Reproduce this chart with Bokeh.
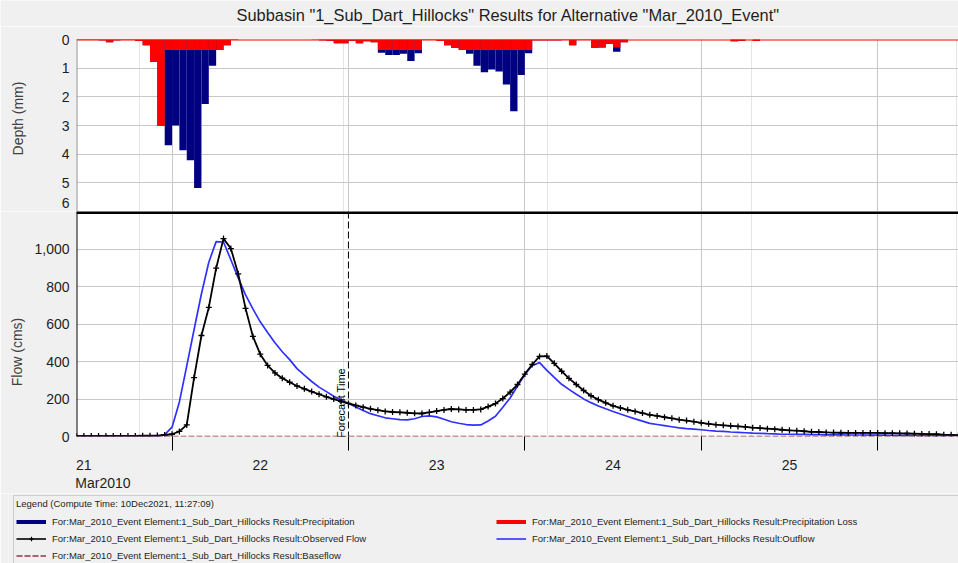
import pandas as pd
from bokeh.plotting import figure
from bokeh.layouts import column
from bokeh.models import (Range1d, LinearAxis, FixedTicker, Grid, Span, Label, Legend,
                          LegendItem, NumeralTickFormatter, DatetimeTickFormatter)
from bokeh.embed import file_html
from bokeh.resources import INLINE

# ---------------- data ----------------
TITLE = 'Subbasin "1_Sub_Dart_Hillocks" Results for Alternative "Mar_2010_Event"'
START = "2010-03-21 11:00"
END = "2010-03-26 11:00"
FORECAST = "2010-03-23 00:00"
LEGEND_TITLE = "Legend (Compute Time: 10Dec2021, 11:27:09)"
DEPTH_LABEL = "Depth (mm)"
FLOW_LABEL = "Flow (cms)"

# hourly depth per interval starting at START (mm)
precip_mm = [
    0.02, 0.02, 0.02, 0.03, 0.10, 0.03, 0.02, 0.02, 0.05, 0.20,
    0.78, 3.02, 3.69, 3.00, 3.86, 4.21, 5.18, 2.25, 0.92, 0.37,
    0.20, 0.02, 0, 0, 0, 0, 0, 0, 0, 0,
    0, 0, 0.01, 0.03, 0.04, 0.13, 0.13, 0.04, 0.13, 0.06,
    0.10, 0.46, 0.54, 0.54, 0.50, 0.75, 0.48, 0.02, 0.02, 0.05,
    0.20, 0.30, 0.37, 0.50, 0.92, 1.14, 1.05, 1.12, 1.57, 2.50,
    1.24, 0.48, 0.03, 0.03, 0.03, 0.03, 0.02, 0.20, 0.02, 0.02,
    0.30, 0.28, 0.15, 0.43, 0.10, 0, 0, 0, 0, 0,
    0, 0, 0, 0, 0, 0, 0, 0, 0, 0.06,
    0.04, 0, 0.05, 0, 0, 0, 0, 0, 0, 0,
    0, 0, 0, 0, 0, 0, 0, 0, 0, 0,
    0, 0, 0, 0, 0, 0, 0, 0, 0, 0,
]
loss_mm = [
    0.02, 0.02, 0.02, 0.03, 0.10, 0.03, 0.02, 0.02, 0.05, 0.20,
    0.78, 3.02, 0.37, 0.37, 0.37, 0.37, 0.37, 0.37, 0.37, 0.37,
    0.20, 0.02, 0, 0, 0, 0, 0, 0, 0, 0,
    0, 0, 0.01, 0.03, 0.04, 0.13, 0.13, 0.04, 0.13, 0.06,
    0.10, 0.37, 0.37, 0.37, 0.37, 0.37, 0.37, 0.02, 0.02, 0.05,
    0.20, 0.30, 0.37, 0.37, 0.37, 0.37, 0.37, 0.37, 0.37, 0.37,
    0.37, 0.37, 0.03, 0.03, 0.03, 0.03, 0.02, 0.20, 0.02, 0.02,
    0.30, 0.28, 0.15, 0.28, 0.10, 0, 0, 0, 0, 0,
    0, 0, 0, 0, 0, 0, 0, 0, 0, 0.06,
    0.04, 0, 0.05, 0, 0, 0, 0, 0, 0, 0,
    0, 0, 0, 0, 0, 0, 0, 0, 0, 0,
    0, 0, 0, 0, 0, 0, 0, 0, 0, 0,
]

# hourly flows from START to END (cms)
observed_cms = [
    3, 3, 3, 3, 3, 3, 3, 3, 3, 4,
    4, 5, 8, 12, 27, 62, 315, 540, 690, 900,
    1058, 1005, 870, 685, 535, 440, 380, 340, 312, 290,
    270, 255, 240, 226, 212, 200, 188, 177, 166, 157,
    148, 141, 134, 131, 129, 127, 124, 123, 129, 136,
    142, 147, 145, 142, 142, 145, 160, 176, 203, 237,
    278, 334, 385, 428, 430, 391, 349, 311, 278, 246,
    218, 197, 180, 164, 153, 143, 134, 125, 116, 110,
    103, 97, 90, 85, 79, 73, 68, 63, 60, 57,
    54, 51, 47, 45, 42, 39, 36, 33, 31, 28,
    25, 24, 22, 21, 20, 19, 19, 19, 19, 19,
    18, 18, 17, 16, 15, 14, 13, 12, 10, 9,
    7,
]
outflow_cms = [
    0, 0, 0, 0, 0, 0, 0, 0, 0, 0,
    0, 1, 10, 50, 185, 378, 572, 763, 932, 1042,
    1040, 945, 848, 757, 682, 613, 556, 501, 453, 411,
    363, 328, 294, 264, 240, 215, 195, 176, 158, 139,
    122, 111, 100, 95, 90, 89, 95, 107, 110, 105,
    92, 79, 71, 64, 61, 62, 83, 108, 156, 206,
    270, 331, 380, 395, 354, 316, 279, 252, 226, 201,
    181, 163, 148, 134, 120, 107, 94, 82, 70, 64,
    58, 52, 46, 42, 39, 36, 32, 29, 27, 24,
    22, 20, 18, 17, 15, 14, 12, 12, 11, 11,
    10, 10, 9, 9, 9, 8, 8, 8, 7, 7,
    7, 6, 6, 6, 6, 5, 5, 5, 5, 4,
    4,
]
baseflow_cms = [0.0] * len(observed_cms)

day_label_times = ["2010-03-21 12:00", "2010-03-22 12:00", "2010-03-23 12:00",
                   "2010-03-24 12:00", "2010-03-25 12:00"]
midnight_times = ["2010-03-22 00:00", "2010-03-23 00:00", "2010-03-24 00:00",
                  "2010-03-25 00:00", "2010-03-26 00:00"]
month_label = "Mar2010"
depth_ticks = [0, 1, 2, 3, 4, 5, 6]
flow_ticks = [0, 200, 400, 600, 800, 1000]
FLOW_MAX = 1203
DEPTH_MAX = 6

LEGEND_LABELS = [
    "For:Mar_2010_Event Element:1_Sub_Dart_Hillocks Result:Precipitation",
    "For:Mar_2010_Event Element:1_Sub_Dart_Hillocks Result:Precipitation Loss",
    "For:Mar_2010_Event Element:1_Sub_Dart_Hillocks Result:Observed Flow",
    "For:Mar_2010_Event Element:1_Sub_Dart_Hillocks Result:Outflow",
    "For:Mar_2010_Event Element:1_Sub_Dart_Hillocks Result:Baseflow",
]

# ---------------- helpers ----------------
def ms(s):
    return pd.Timestamp(s).value / 1e6

FONT = "Liberation Sans"
BG = "#f0f0f0"
GRID = "#c8c8c8"
TXT = "#1e1e1e"
W = 958
TITLE_H = 26
NAN = float("nan")
EM = "\u2003"   # em-space padding used to nudge the rotated axis titles

bar_centers = pd.date_range(START, periods=len(precip_mm), freq="h") + pd.Timedelta(minutes=30)
flow_times = pd.date_range(START, END, freq="h")
HOUR_MS = 3600 * 1000

x_range = Range1d(start=ms(START), end=ms(END))
midnight_ms = [ms(t) for t in midnight_times]
noon_ms = [ms(t) for t in day_label_times]

# ---------------- title strip ----------------
p0 = figure(width=W, height=TITLE_H, x_range=Range1d(0, W), y_range=Range1d(TITLE_H, 0),
            x_axis_location=None, y_axis_location=None, toolbar_location=None,
            output_backend="svg", min_border=0, outline_line_color=None,
            background_fill_color=BG, border_fill_color=BG)
try:
    p0.frame_align = False
except Exception:
    pass
p0.xgrid.grid_line_color = None
p0.ygrid.grid_line_color = None
p0.add_layout(Label(x=236, y=14, text=TITLE, text_align="left", text_baseline="middle",
                    text_font=FONT, text_font_size="16.4px", text_color=TXT))

# ---------------- top panel: depth ----------------
p1 = figure(width=W, height=211 - TITLE_H, x_range=x_range, y_range=Range1d(DEPTH_MAX, 0),
            x_axis_location=None, y_axis_location=None, toolbar_location=None,
            output_backend="svg", min_border_left=76, min_border_right=0,
            min_border_top=39 - TITLE_H, min_border_bottom=0,
            background_fill_color="white", border_fill_color=BG, outline_line_color=None)

# the last depth label sits just above the panel's lower edge, as in the source chart
last_pos = DEPTH_MAX - 0.3
depth_label_pos = depth_ticks[:-1] + [last_pos]
ax1 = LinearAxis(ticker=FixedTicker(ticks=depth_label_pos), axis_label=EM + DEPTH_LABEL,
                 major_label_overrides={last_pos: str(depth_ticks[-1])})
p1.add_layout(ax1, "left")
ax1.major_tick_out = 0
ax1.major_tick_in = 0
ax1.minor_tick_out = 0
ax1.major_label_standoff = 7
ax1.major_label_text_font = FONT
ax1.major_label_text_font_size = "14px"
ax1.major_label_text_color = TXT
ax1.axis_label_text_font = FONT
ax1.axis_label_text_font_size = "14px"
ax1.axis_label_text_font_style = "normal"
ax1.axis_label_text_color = "#404040"
ax1.axis_label_standoff = 33
ax1.axis_line_color = None

p1.add_layout(Grid(dimension=1, ticker=FixedTicker(ticks=depth_ticks[1:-1]),
                   grid_line_color=GRID))
p1.add_layout(Grid(dimension=0, ticker=FixedTicker(ticks=midnight_ms),
                   grid_line_color=GRID))

p1.vbar(x=bar_centers, width=HOUR_MS, top=0, bottom=precip_mm,
        fill_color="#000080", line_color=None)
p1.vbar(x=bar_centers, width=HOUR_MS, top=0, bottom=loss_mm,
        fill_color="#ff0000", line_color=None)
p1.add_layout(Span(location=0, dimension="width", line_color="#ff0000", line_width=2))
p1.add_layout(Span(location=ms(START), dimension="height", line_color="#909090", line_width=2))

# ---------------- bottom panel: flow ----------------
p2 = figure(width=W, height=282, x_range=x_range, y_range=Range1d(0, FLOW_MAX),
            x_axis_location=None, y_axis_location=None, toolbar_location=None,
            output_backend="svg", min_border_left=76, min_border_right=0,
            min_border_top=0, min_border_bottom=45,
            background_fill_color="white", border_fill_color=BG, outline_line_color=None)

ax2 = LinearAxis(ticker=FixedTicker(ticks=flow_ticks), axis_label=FLOW_LABEL + EM * 4,
                 formatter=NumeralTickFormatter(format="0,0"))
p2.add_layout(ax2, "left")
ax2.major_tick_out = 0
ax2.major_tick_in = 0
ax2.minor_tick_out = 0
ax2.major_label_standoff = 7
ax2.major_label_text_font = FONT
ax2.major_label_text_font_size = "14px"
ax2.major_label_text_color = TXT
ax2.axis_label_text_font = FONT
ax2.axis_label_text_font_size = "14px"
ax2.axis_label_text_font_style = "normal"
ax2.axis_label_text_color = "#404040"
ax2.axis_label_standoff = 6
ax2.axis_line_color = None

day_fmt = DatetimeTickFormatter(days="%d", hours="%d", months="%d", years="%d",
                                minutes="%d", hourmin="%d", seconds="%d",
                                minsec="%d", milliseconds="%d", microseconds="%d")
axA = LinearAxis(ticker=FixedTicker(ticks=noon_ms, minor_ticks=midnight_ms),
                 formatter=day_fmt)
p2.add_layout(axA, "below")
axA.axis_line_color = None
axA.major_tick_out = 0
axA.major_tick_in = 0
axA.minor_tick_in = 0
axA.minor_tick_out = 14
axA.minor_tick_line_color = "black"
axA.major_label_standoff = 9
axA.major_label_text_font = FONT
axA.major_label_text_font_size = "14px"
axA.major_label_text_color = TXT

# month label under the first day label (left-aligned with the axis start)
month_pos = ms(START) + 3.6 * HOUR_MS
axB = LinearAxis(ticker=FixedTicker(ticks=[month_pos]),
                 major_label_overrides={month_pos: month_label})
p2.add_layout(axB, "below")
axB.axis_line_color = None
axB.major_tick_line_color = None
axB.minor_tick_line_color = None
axB.major_tick_out = 0
axB.major_label_standoff = 2
axB.major_label_text_font = FONT
axB.major_label_text_font_size = "14px"
axB.major_label_text_color = TXT

p2.add_layout(Grid(dimension=1, ticker=FixedTicker(ticks=flow_ticks[1:]),
                   grid_line_color=GRID))
p2.add_layout(Grid(dimension=0,
                   ticker=FixedTicker(ticks=[m for m in midnight_ms if m != ms(FORECAST)]),
                   grid_line_color=GRID))

p2.line(flow_times, outflow_cms, line_color="#3030ff", line_width=1.7)
p2.line(flow_times, observed_cms, line_color="black", line_width=1.8)
p2.scatter(flow_times, observed_cms, marker="cross", size=6, line_color="black", line_width=1.3)
p2.line(flow_times, baseflow_cms, line_color="#8c3848", line_dash="6 2", line_width=1.5)

p2.add_layout(Span(location=ms(FORECAST), dimension="height", line_color="black",
                   line_dash="7 3", line_width=1))
p2.add_layout(Span(location=FLOW_MAX, dimension="width", line_color="black", line_width=5))
p2.add_layout(Span(location=ms(START), dimension="height", line_color="black", line_width=2))
p2.add_layout(Label(x=ms(FORECAST), y=56, y_offset=-12, text="Forecast Time", angle=90,
                    angle_units="deg", x_offset=-1, text_align="left", text_baseline="bottom",
                    text_font=FONT, text_font_size="11px", text_color="black"))

# ---------------- legend ----------------
p3 = figure(width=W, height=70, x_range=Range1d(0, 1), y_range=Range1d(0, 1),
            x_axis_location=None, y_axis_location=None, toolbar_location=None,
            output_backend="svg", min_border=0, min_border_left=8, outline_line_color=None,
            background_fill_color=BG, border_fill_color=BG)
legend_x = 5
try:
    p3.frame_align = False      # keep this frame independent of the panels above
except Exception:
    legend_x = -63
p3.xgrid.grid_line_color = None
p3.ygrid.grid_line_color = None
# legend swatch glyphs (no visible data of their own)
r_pre = p3.line(x=[NAN], y=[NAN], line_color="#000080", line_width=4)
r_loss = p3.line(x=[NAN], y=[NAN], line_color="#ff0000", line_width=4)
r_obs_l = p3.line(x=[NAN], y=[NAN], line_color="black", line_width=1.6)
r_obs_m = p3.scatter(x=[NAN], y=[NAN], marker="cross", size=6, line_color="black", line_width=1.2)
r_out = p3.line(x=[NAN], y=[NAN], line_color="#3030ff", line_width=1.6)
r_base = p3.line(x=[NAN], y=[NAN], line_color="#8c3848", line_dash="6 2", line_width=1.5)

legend = Legend(
    items=[LegendItem(label=LEGEND_LABELS[0], renderers=[r_pre]),
           LegendItem(label=LEGEND_LABELS[1], renderers=[r_loss]),
           LegendItem(label=LEGEND_LABELS[2], renderers=[r_obs_l, r_obs_m]),
           LegendItem(label=LEGEND_LABELS[3], renderers=[r_out]),
           LegendItem(label=LEGEND_LABELS[4], renderers=[r_base])],
    location=(legend_x, -1), orientation="horizontal", ncols=2,
    title=LEGEND_TITLE, title_text_font=FONT, title_text_font_size="9.5px",
    title_text_font_style="normal", title_text_color=TXT, title_standoff=7,
    label_text_font=FONT, label_text_font_size="9.5px", label_text_color=TXT,
    glyph_width=30, glyph_height=11, label_height=11, label_standoff=6,
    label_width=438, spacing=6, padding=2, margin=0,
    border_line_color="#a8a8a8", background_fill_alpha=0)
p3.add_layout(legend)

layout = column(p0, p1, p2, p3, spacing=0)
open("out.html", "w").write(file_html(layout, INLINE))
